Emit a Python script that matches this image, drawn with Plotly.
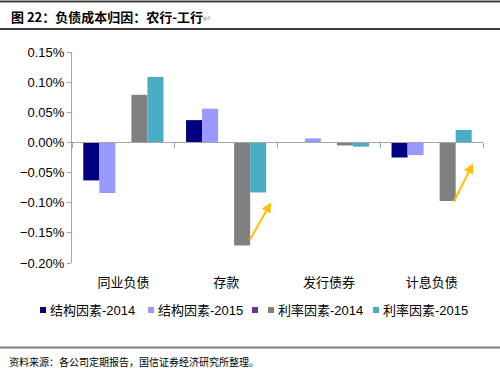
import plotly.graph_objects as go

categories = ["同业负债", "存款", "发行债券", "计息负债"]
struct_2014 = [-0.00063, 0.00037, 0.0, -0.00025]
struct_2015 = [-0.00084, 0.00056, 0.000066, -0.00021]
blank_series = [None, None, None, None]
rate_2014 = [0.00079, -0.00171, -0.00005, -0.00097]
rate_2015 = [0.001085, -0.00083, -0.00007, 0.000206]

series_names = ["结构因素-2014", "结构因素-2015", "", "利率因素-2014", "利率因素-2015"]
series_vals = [struct_2014, struct_2015, blank_series, rate_2014, rate_2015]
colors = ["#000080", "#9999FF", "#7030A0", "#808080", "#4BACC6"]

W, H = 500, 369
ml, mr, mt, mb = 72, 17, 52, 106
pw, ph = W - ml - mr, H - mt - mb

fig = go.Figure()
for name, vals, c in zip(series_names, series_vals, colors):
    fig.add_trace(go.Bar(x=categories, y=vals, name=name or " ", marker_color=c,
                         marker_line_width=0, showlegend=False, hoverinfo="skip"))

# invisible helper trace for bottom label axis
fig.add_trace(go.Scatter(x=categories, y=[0]*4, xaxis="x2", mode="markers",
                         marker=dict(opacity=0), showlegend=False, hoverinfo="skip"))

font_main = "Liberation Sans, Arial, Noto Sans CJK SC, sans-serif"
ymin, ymax = -0.002, 0.0015
zero_pos = (0 - ymin) / (ymax - ymin)

fig.update_layout(
    width=W, height=H, margin=dict(l=ml, r=mr, t=mt, b=mb),
    paper_bgcolor="white", plot_bgcolor="white",
    barmode="group", bargap=0.22, bargroupgap=0,
    font=dict(family=font_main, size=13, color="#000000"),
    showlegend=False,
    yaxis=dict(range=[ymin, ymax], dtick=0.0005, tickformat=".2%",
               showgrid=False, zeroline=False, showline=True, linecolor="#A6A6A6",
               linewidth=1, ticks="outside", ticklen=4, tickcolor="#A6A6A6",
               tickfont=dict(size=13, color="#000000")),
    xaxis=dict(anchor="free", position=zero_pos, showline=True, linecolor="#A6A6A6",
               linewidth=1, ticks="outside", tickson="boundaries", ticklen=5,
               tickcolor="#A6A6A6", showticklabels=False, showgrid=False, zeroline=False),
    xaxis2=dict(overlaying="x", anchor="y", side="bottom", matches="x",
                showline=False, ticks="outside", ticklen=7, tickcolor="rgba(0,0,0,0)",
                showgrid=False, zeroline=False, tickfont=dict(size=13, color="#000000"),
                categoryorder="array", categoryarray=categories),
)

def px_x(px):
    return (px - ml) / pw

def px_y(py):
    return 1 - (py - mt) / ph

# title and source
fig.add_annotation(text='<b>图 22：负债成本归因：农行-工行</b><span style="color:#A0A0A0;font-size:10px">↵</span>',
                   xref="paper", yref="paper",
                   x=px_x(9), y=px_y(17), xanchor="left", yanchor="middle", showarrow=False,
                   font=dict(family="Noto Sans CJK SC", size=13, color="#000000"))
fig.add_annotation(text="资料来源：各公司定期报告，国信证券经济研究所整理。", xref="paper", yref="paper",
                   x=px_x(7), y=px_y(361), xanchor="left", yanchor="middle", showarrow=False,
                   font=dict(family="Noto Sans CJK SC", size=10, color="#000000"))

# legend: colour squares + text labels
legend_sq_x = [40, 148, 252, 268, 373]
legend_y = 310
for n, c, sx in zip(series_names, colors, legend_sq_x):
    fig.add_shape(type="rect", xref="paper", yref="paper",
                  x0=px_x(sx), x1=px_x(sx + 6), y0=px_y(legend_y + 3), y1=px_y(legend_y - 3),
                  line=dict(width=0), fillcolor=c)
    if n:
        fig.add_annotation(text=n, xref="paper", yref="paper", x=px_x(sx + 8), y=px_y(legend_y),
                           xanchor="left", yanchor="middle", showarrow=False,
                           font=dict(family=font_main, size=13, color="#000000"))

# horizontal rules
for py, col, w in [(1.5, "#404040", 2), (29, "#404040", 2), (347.5, "#808080", 2)]:
    fig.add_shape(type="line", xref="paper", yref="paper", x0=px_x(0), x1=px_x(W),
                  y0=px_y(py), y1=px_y(py), line=dict(color=col, width=w))

# arrows
for (x0, y0, x1, y1) in [(1.223, -0.00164, 1.437, -0.000995), (3.208, -0.00101, 3.403, -0.000348)]:
    fig.add_annotation(x=x1, y=y1, ax=x0, ay=y0, xref="x", yref="y", axref="x", ayref="y",
                       showarrow=True, arrowhead=2, arrowsize=1, arrowwidth=2,
                       arrowcolor="#FFC000", text="")

fig.write_html("out.html", config={"displayModeBar": False},
               post_script="document.body.style.margin='0px';document.body.style.overflow='hidden';")
